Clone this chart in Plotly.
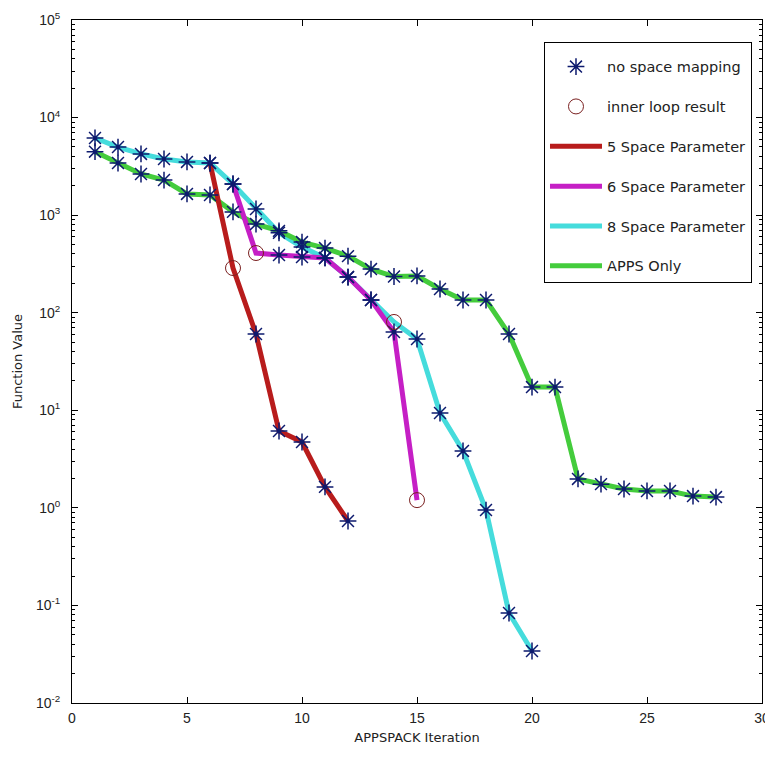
import plotly.graph_objects as go

# ---------------- data ----------------
iter_apps = list(range(1, 29))
apps_only = [4470, 3420, 2640, 2290, 1650, 1610, 1080, 810, 690, 530, 460, 380,
             280, 235, 238, 175, 135, 135, 60.5, 17.3, 17.3, 1.98, 1.75, 1.56,
             1.49, 1.49, 1.32, 1.29]

iter_8 = list(range(1, 21))
space_8 = [6180, 4990, 4240, 3760, 3510, 3420, 2085, 1156, 660, 471, 364, 232,
           135, 80.4, 53.8, 9.38, 3.83, 0.95, 0.0836, 0.0341]

iter_6 = list(range(7, 16))
space_6 = [2085, 409, 390, 372, 364, 232, 135, 63.4, 1.20]

iter_5 = list(range(6, 13))
space_5 = [3420, 287, 60.5, 6.13, 4.73, 1.64, 0.733]

inner_x = [7, 8, 14, 15]
inner_y = [287, 409, 80.4, 1.20]

x_ticks = [0, 5, 10, 15, 20, 25, 30]
y_exponents = [-2, -1, 0, 1, 2, 3, 4, 5]
y_tick_vals = [10.0 ** e for e in y_exponents]
y_tick_text = ["10<sup>%d</sup>" % e for e in y_exponents]
y_minor_vals = [m * 10.0 ** e for e in y_exponents[:-1] for m in range(2, 10)]

# ---------------- star positions: every iterate that is not an inner-loop result
inner_pts = set(zip(inner_x, inner_y))
star_x, star_y = [], []
for xs, ys in [(iter_apps, apps_only), (iter_8, space_8), (iter_6, space_6), (iter_5, space_5)]:
    for xv, yv in zip(xs, ys):
        if (xv, yv) not in inner_pts:
            star_x.append(xv)
            star_y.append(yv)

LW = 5
FONT = "DejaVu Sans, Liberation Sans, Arial, sans-serif"
TICKFONT = "Liberation Sans, Arial, sans-serif"
fig = go.Figure()

fig.add_trace(go.Scatter(x=iter_8, y=space_8, mode="lines", name="8 Space Parameter",
                         line=dict(color="#45dcdc", width=LW), legendgroup="c", legendrank=5))
fig.add_trace(go.Scatter(x=iter_apps, y=apps_only, mode="lines", name="APPS Only",
                         line=dict(color="#44cc3c", width=LW), legendgroup="d", legendrank=6))
fig.add_trace(go.Scatter(x=iter_6, y=space_6, mode="lines", name="6 Space Parameter",
                         line=dict(color="#c51fc5", width=LW), legendgroup="b", legendrank=4))
fig.add_trace(go.Scatter(x=iter_5, y=space_5, mode="lines", name="5 Space Parameter",
                         line=dict(color="#b81c1c", width=LW), legendgroup="a", legendrank=3))
fig.add_trace(go.Scatter(x=star_x, y=star_y, mode="markers", name="no space mapping",
                         marker=dict(symbol="asterisk-open", size=14, color="#0d1a6e",
                                     line=dict(color="#0d1a6e", width=1.5)),
                         legendgroup="s", legendrank=1))
fig.add_trace(go.Scatter(x=inner_x, y=inner_y, mode="markers", name="inner loop result",
                         marker=dict(symbol="circle-open", size=15, color="#7a2020",
                                     line=dict(color="#7a2020", width=1)),
                         legendgroup="o", legendrank=2))

axis_common = dict(showline=True, linecolor="black", linewidth=1, mirror="ticks",
                   ticks="inside", tickcolor="black", showgrid=False, zeroline=False,
                   automargin=False,
                   tickfont=dict(family=TICKFONT, size=14, color="#222"))

fig.update_xaxes(range=[0, 30], tickvals=x_ticks, ticklen=6, ticklabelstandoff=2,
                 title=dict(text="APPSPACK Iteration", standoff=8,
                            font=dict(family=FONT, size=13, color="#222")),
                 **axis_common)
fig.update_yaxes(type="log", range=[-2, 5], tickvals=y_tick_vals, ticktext=y_tick_text,
                 ticklen=6, ticklabelstandoff=8,
                 minor=dict(ticks="inside", ticklen=3, tickcolor="black",
                            tickvals=y_minor_vals, showgrid=False),
                 title=dict(text="Function Value", standoff=10,
                            font=dict(family=FONT, size=13, color="#222")),
                 **axis_common)

fig.update_layout(
    width=773, height=757,
    margin=dict(l=64, r=19, t=12, b=62),
    paper_bgcolor="white", plot_bgcolor="white",
    font=dict(family=FONT, size=13, color="#222"),
    legend=dict(x=0.9855, xanchor="right", y=0.968, yanchor="top",
                bgcolor="white", bordercolor="black", borderwidth=1,
                traceorder="grouped", tracegroupgap=18, itemwidth=52,
                title=dict(text=" ", font=dict(size=6)),
                font=dict(family=FONT, size=14.5)),
)

fig.write_html("out.html")
